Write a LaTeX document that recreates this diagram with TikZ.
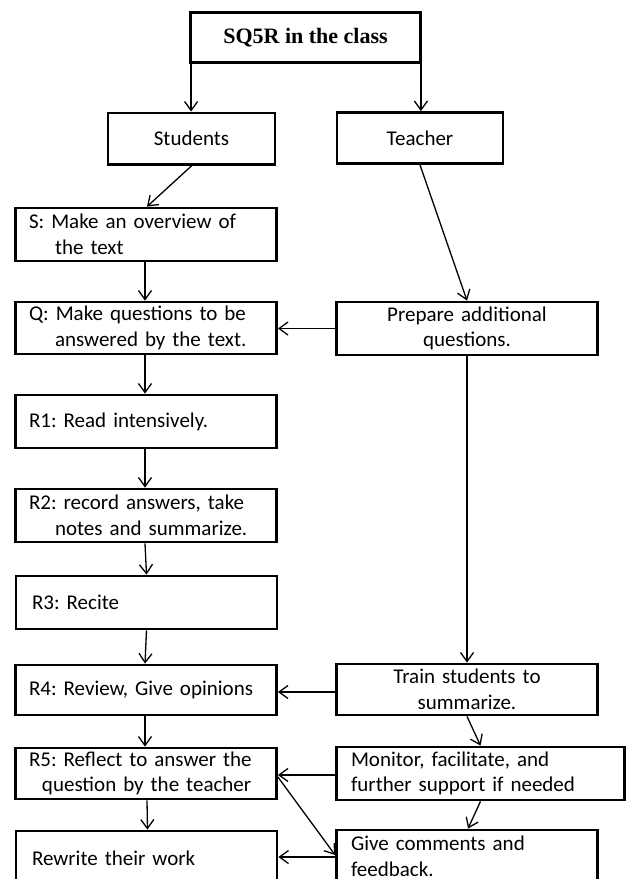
\documentclass[tikz,border=0pt]{standalone}
\usepackage{fontspec}
\setmainfont{Carlito}
\newfontfamily\headfont{Liberation Serif}
\usetikzlibrary{arrows.meta}
\frenchspacing
\hyphenpenalty=10000
\exhyphenpenalty=10000

\begin{document}
\begin{tikzpicture}[x=1pt, y=-1pt,
  box/.style={draw, line width=2.8pt, rectangle, inner sep=0pt,
    font=\fontsize{21}{25.5}\selectfont},
  lbox/.style={box, align=left},
  cbox/.style={box, align=center},
  arr/.style={line width=1.3pt, -{Straight Barb[length=9pt, width=13pt]}}
]
\useasboundingbox (0,0) rectangle (627,879);
\fill[white] (0,0) rectangle (627,879);
\clip (0,0) rectangle (627,879);

% heading
\node[box, minimum width=230pt, minimum height=50pt,
      font=\headfont\bfseries\fontsize{22}{25}\selectfont] (title) at (305.5,37.5) {SQ5R in the class};

% two actors
\node[cbox, minimum width=167pt, minimum height=51.5pt] (stud)  at (191.5,138.75) {Students};
\node[cbox, minimum width=166pt, minimum height=51pt]   (teach) at (420,138) {Teacher};

% student steps
\node[lbox, minimum width=261pt, minimum height=53pt, text width=234pt] (S)  at (146,234.5)
  {S: Make an overview of\\\hspace*{26pt}the text};
\node[lbox, minimum width=261pt, minimum height=52pt, text width=234pt] (Q)  at (146,328)
  {Q: Make questions to be\\\hspace*{26pt}answered by the text.};
\node[lbox, minimum width=261pt, minimum height=53pt, text width=234pt] (R1) at (146,421.5)
  {R1: Read intensively.};
\node[lbox, minimum width=261pt, minimum height=53pt, text width=234pt] (R2) at (146,515.5)
  {R2: record answers, take\\\hspace*{26pt}notes and summarize.};
\node[lbox, minimum width=261pt, minimum height=53pt, text width=229pt] (R3) at (146.5,602.5)
  {R3: Recite};
\node[lbox, minimum width=261pt, minimum height=50pt, text width=234pt] (R4) at (146,690)
  {R4: Review, Give opinions};
\node[lbox, minimum width=261pt, minimum height=51pt, text width=234pt] (R5) at (146,773.5)
  {R5: Reflect to answer the\\\hspace*{13pt}question by the teacher};
\node[lbox, minimum width=261pt, minimum height=54pt, text width=229pt] (rew) at (146.5,858)
  {Rewrite their work};

% teacher steps
\node[cbox, minimum width=261pt, minimum height=53pt, text width=240pt] (prep)  at (467,328.5)
  {Prepare additional\\questions.};
\node[cbox, minimum width=261pt, minimum height=51pt, text width=240pt] (train) at (467,689.5)
  {Train students to\\summarize.};
\node[lbox, minimum width=288pt, minimum height=53pt, text width=259pt] (mon)   at (480.5,773.5)
  {Monitor, facilitate, and\\further support if needed};
\node[lbox, minimum width=261pt, minimum height=53pt, text width=232pt] (give)  at (467,856.5)
  {Give comments and\\feedback.};

% connectors
\draw[arr] ([xshift=2pt]title.south west) -- ([xshift=2pt]title.south west |- stud.north);
\draw[arr] ([xshift=-1pt]title.south east) -- ([xshift=-1pt]title.south east |- teach.north);
\draw[arr] (stud.south) -- ([xshift=1pt]S.north);
\draw[arr] (teach.south) -- (prep.north);
\draw[arr] ([xshift=-1pt]S.south) -- ([xshift=-1pt]Q.north);
\draw[arr] (prep.west) -- (prep.west -| Q.east);
\draw[arr] ([xshift=-1pt]Q.south) -- ([xshift=-1pt]R1.north);
\draw[arr] ([xshift=-1pt]R1.south) -- ([xshift=-1pt]R2.north);
\draw[arr] ([xshift=-1pt]R2.south) -- (R3.north);
\draw[arr] (R3.south) -- ([xshift=-1pt]R4.north);
\draw[arr] (prep.south) -- (train.north);
\draw[arr] ([yshift=-2.5pt]train.west) -- ([yshift=-2.5pt]train.west -| R4.east);
\draw[arr] ([xshift=-1pt]R4.south) -- ([xshift=-1pt]R5.north);
\draw[arr] (train.south) -- (mon.north);
\draw[arr] ([yshift=-1.5pt]mon.west) -- ([yshift=-1.5pt]mon.west -| R5.east);
\draw[arr] ([yshift=-3.5pt]R5.east) -- ([yshift=1.5pt]give.west);
\draw[arr] ([xshift=1pt]R5.south) -- ([xshift=1pt]rew.north);
\draw[arr] (mon.south) -- ([xshift=1pt]give.north);
\draw[arr] ([yshift=-0.5pt]give.west) -- ([yshift=-0.5pt]give.west -| rew.east);
\end{tikzpicture}
\end{document}
